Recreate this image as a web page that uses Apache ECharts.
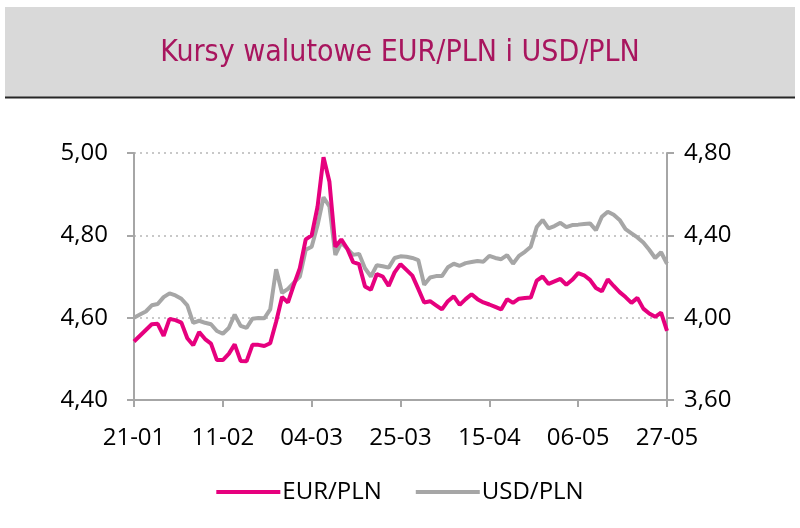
<!DOCTYPE html>
<html>
<head>
<meta charset="utf-8">
<script src="https://cdn.jsdelivr.net/npm/echarts@6/dist/echarts.min.js"></script>
<style>
  html, body { margin: 0; padding: 0; background: #fff; }
  #chart { width: 800px; height: 528px; }
</style>
</head>
<body>
<div id="chart"></div>
<script>
// dni robocze, etykieta co 15 punktow
var dates = [
  "21-01","22-01","23-01","24-01","25-01",
  "28-01","29-01","30-01","31-01","01-02",
  "04-02","05-02","06-02","07-02","08-02",
  "11-02","12-02","13-02","14-02","15-02",
  "18-02","19-02","20-02","21-02","22-02",
  "25-02","26-02","27-02","28-02","01-03",
  "04-03","05-03","06-03","07-03","08-03",
  "11-03","12-03","13-03","14-03","15-03",
  "18-03","19-03","20-03","21-03","22-03",
  "25-03","26-03","27-03","28-03","29-03",
  "01-04","02-04","03-04","04-04","05-04",
  "08-04","09-04","10-04","11-04","12-04",
  "15-04","16-04","17-04","18-04","19-04",
  "22-04","23-04","24-04","25-04","26-04",
  "29-04","30-04","01-05","02-05","03-05",
  "06-05","07-05","08-05","09-05","10-05",
  "13-05","14-05","15-05","16-05","17-05",
  "20-05","21-05","22-05","23-05","24-05",
  "27-05"
];

var eurPln = [
  4.542, 4.556, 4.570, 4.584, 4.585, 4.556, 4.597, 4.594, 4.588, 4.550,
  4.533, 4.565, 4.548, 4.537, 4.497, 4.497, 4.512, 4.535, 4.495, 4.494,
  4.534, 4.534, 4.531, 4.538, 4.590, 4.650, 4.637, 4.680, 4.720, 4.790,
  4.800, 4.870, 4.990, 4.930, 4.772, 4.790, 4.768, 4.735, 4.730, 4.676,
  4.668, 4.706, 4.700, 4.677, 4.710, 4.730, 4.716, 4.702, 4.670, 4.637,
  4.640, 4.630, 4.620, 4.640, 4.652, 4.631, 4.645, 4.657, 4.645, 4.637,
  4.632, 4.626, 4.620, 4.645, 4.636, 4.646, 4.648, 4.649, 4.690, 4.700,
  4.682, 4.688, 4.694, 4.680, 4.692, 4.708, 4.703, 4.692, 4.672, 4.664,
  4.693, 4.677, 4.662, 4.650, 4.636, 4.648, 4.622, 4.610, 4.602, 4.612,
  4.568
];

var usdPln = [
  4.000, 4.015, 4.030, 4.060, 4.066, 4.100, 4.118, 4.108, 4.092, 4.060,
  3.975, 3.985, 3.975, 3.968, 3.935, 3.922, 3.950, 4.015, 3.960, 3.950,
  3.995, 3.998, 3.997, 4.040, 4.235, 4.120, 4.140, 4.170, 4.200, 4.330,
  4.345, 4.450, 4.585, 4.540, 4.305, 4.365, 4.335, 4.305, 4.310, 4.240,
  4.200, 4.255, 4.250, 4.243, 4.290, 4.298, 4.296, 4.290, 4.280, 4.160,
  4.195, 4.202, 4.202, 4.245, 4.262, 4.252, 4.265, 4.270, 4.275, 4.272,
  4.300, 4.290, 4.284, 4.304, 4.262, 4.300, 4.320, 4.345, 4.440, 4.475,
  4.434, 4.445, 4.461, 4.440, 4.450, 4.452, 4.455, 4.458, 4.425, 4.490,
  4.515, 4.500, 4.475, 4.430, 4.410, 4.390, 4.365, 4.330, 4.290, 4.318,
  4.262
];

var PINK = "#e6007e";
var GRAY = "#a6a6a6";
var FONT = "Open Sans";

function plFmt(v) {
  return v.toFixed(2).replace(".", ",");
}

var chart = echarts.init(document.getElementById("chart"), null, { renderer: "canvas" });

chart.setOption({
  animation: false,
  backgroundColor: "#fff",
  graphic: [
    {
      type: "rect",
      shape: { x: 5, y: 7, width: 790, height: 90 },
      style: { fill: "#d9d9d9" },
      z: -10
    },
    {
      type: "line",
      shape: { x1: 5, y1: 97.5, x2: 795, y2: 97.5 },
      style: { stroke: "#262626", lineWidth: 2 },
      z: -9
    }
  ],
  title: {
    text: "Kursy walutowe EUR/PLN i USD/PLN",
    left: "center",
    top: 33,
    textStyle: {
      fontFamily: "DejaVu Sans Condensed",
      fontWeight: "normal",
      fontSize: 30,
      color: "#a8155e"
    }
  },
  legend: {
    bottom: 19,
    left: "center",
    itemWidth: 64,
    itemHeight: 4,
    itemGap: 34,
    icon: "rect",
    textStyle: { fontFamily: FONT, fontSize: 24, color: "#000", padding: [0, 0, 0, -3] },
    data: ["EUR/PLN", "USD/PLN"]
  },
  grid: { left: 134, right: 133, top: 153, bottom: 128 },
  xAxis: {
    type: "category",
    data: dates,
    boundaryGap: false,
    axisLine: { lineStyle: { color: GRAY, width: 2 } },
    axisTick: { interval: 14, length: 7, lineStyle: { color: GRAY, width: 2 } },
    axisLabel: {
      interval: 14,
      margin: 26,
      fontFamily: FONT,
      fontSize: 24,
      color: "#000"
    },
    splitLine: { show: false }
  },
  yAxis: [
    {
      type: "value",
      min: 4.4,
      max: 5.0,
      interval: 0.2,
      axisLine: { show: true, lineStyle: { color: GRAY, width: 2 } },
      axisTick: { show: true, length: 7, lineStyle: { color: GRAY, width: 2 } },
      axisLabel: { margin: 26, fontFamily: FONT, fontSize: 24, color: "#000", formatter: plFmt },
      splitLine: { lineStyle: { color: "#c8c8c8", type: [2, 4], width: 2 } }
    },
    {
      type: "value",
      min: 3.6,
      max: 4.8,
      interval: 0.4,
      position: "right",
      axisLine: { show: true, lineStyle: { color: GRAY, width: 2 } },
      axisTick: { show: true, length: 7, lineStyle: { color: GRAY, width: 2 } },
      axisLabel: { margin: 17, fontFamily: FONT, fontSize: 24, color: "#000", formatter: plFmt },
      splitLine: { show: false }
    }
  ],
  series: [
    {
      name: "USD/PLN",
      type: "line",
      yAxisIndex: 1,
      data: usdPln,
      showSymbol: false,
      lineStyle: { color: GRAY, width: 4 },
      itemStyle: { color: GRAY },
      z: 2
    },
    {
      name: "EUR/PLN",
      type: "line",
      yAxisIndex: 0,
      data: eurPln,
      showSymbol: false,
      lineStyle: { color: PINK, width: 4 },
      itemStyle: { color: PINK },
      z: 3
    }
  ]
});
</script>
</body>
</html>
